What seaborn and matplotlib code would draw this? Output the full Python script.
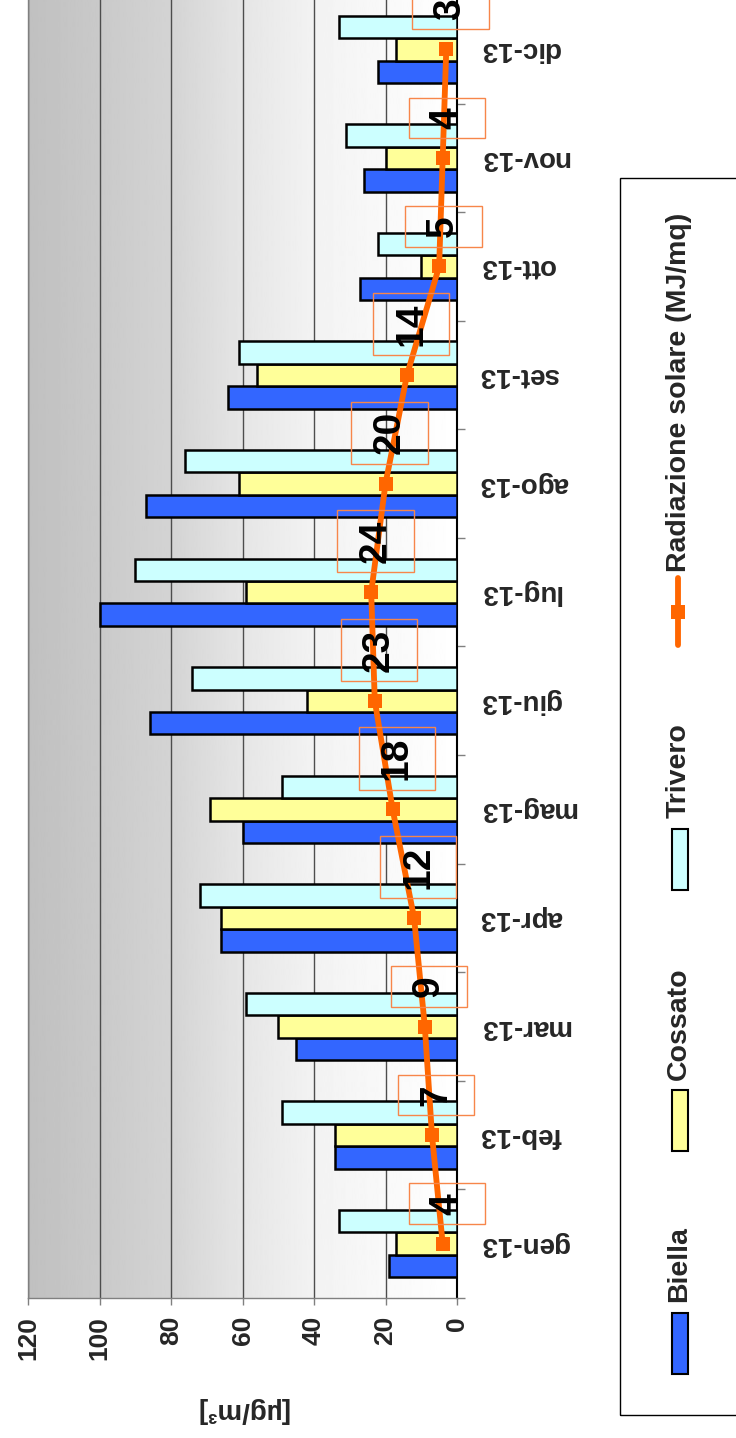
import numpy as np
import pandas as pd
import matplotlib
matplotlib.use("Agg")
import matplotlib.pyplot as plt
import seaborn as sns
from matplotlib.patches import Rectangle
from matplotlib.lines import Line2D
from matplotlib.path import Path

# Monthly mean concentrations [µg/m³] per station and monthly solar radiation (MJ/mq)
months = ["gen-13", "feb-13", "mar-13", "apr-13", "mag-13", "giu-13",
          "lug-13", "ago-13", "set-13", "ott-13", "nov-13", "dic-13"]
biella = [19, 34, 45, 66, 60, 86, 100, 87, 64, 27, 26, 22]
cossato = [17, 34, 50, 66, 69, 42, 59, 61, 56, 10, 20, 17]
trivero = [33, 49, 59, 72, 49, 74, 90, 76, 61, 22, 31, 33]
radiazione = [4, 7, 9, 12, 18, 23, 24, 20, 14, 5, 4, 3]
stations = ["Biella", "Cossato", "Trivero"]
station_colors = ["#3366FF", "#FFFF99", "#CCFFFF"]
value_ticks = [0, 20, 40, 60, 80, 100, 120]
rad_label = "Radiazione solare (MJ/mq)"
unit_label = "[µg/m³]"

sns.set_theme(style="white")
plt.rcParams["font.family"] = ["Liberation Sans", "DejaVu Sans"]
plt.rcParams["font.weight"] = "bold"

df = pd.DataFrame({
    "mese": months * 3,
    "stazione": np.repeat(stations, len(months)),
    "valore": biella + cossato + trivero,
})

W, H = 736, 1438
fig = plt.figure(figsize=(W / 100, H / 100), dpi=100)


def fx(px):
    return px / W


def fy(py):
    return 1 - py / H


def label_box(x0, y0, width, height, mutation_size):
    """Rectangular frame with a small pad along the text and a wide one across it."""
    pa = 0.24 * mutation_size
    pc = 0.52 * mutation_size
    x0, x1 = x0 - pa, x0 + width + pa
    y0, y1 = y0 - pc, y0 + height + pc
    return Path([(x0, y0), (x1, y0), (x1, y1), (x0, y1), (x0, y0)],
                closed=True)


# The chart is laid out sideways: values run right-to-left, months bottom-to-top
ax = fig.add_axes([fx(28), fy(1298), fx(457) - fx(28), fy(-5) - fy(1298)])

sns.barplot(data=df, y="mese", x="valore", hue="stazione", order=months,
            hue_order=stations, palette=station_colors, orient="h",
            width=0.62, gap=0, edgecolor="black", linewidth=1.8,
            saturation=1, legend=False, ax=ax, zorder=3)

ypos = np.arange(len(months))
sns.lineplot(x=radiazione, y=ypos, orient="y", color="#FF6600", lw=4.2,
             marker="s", markersize=10, markeredgewidth=0, ax=ax,
             zorder=5, legend=False)

# grey-to-white background gradient
grad_x = np.linspace(0, 120, 400)
grad_v = np.interp(grad_x, [0, 20, 40, 60, 80, 100, 120],
                   [1.0, 0.975, 0.95, 0.90, 0.83, 0.79, 0.753])
ax.imshow(grad_v[np.newaxis, :], extent=(0, 120, -0.5, len(months) - 0.5),
          cmap="gray", vmin=0, vmax=1, aspect="auto", zorder=0.1,
          interpolation="bilinear")
ax.set_xlim(120, 0)
ax.set_ylim(-0.5, len(months) - 0.5)

ax.set_axisbelow(True)
ax.grid(axis="x", color="#4d4d4d", lw=1)
ax.grid(axis="y", visible=False)

# value labels for radiation
for i, v in enumerate(radiazione):
    ax.annotate(str(v), xy=(v, i), xytext=(3, 21), textcoords="offset points",
                rotation=90, ha="center", va="bottom", fontsize=28,
                fontweight="bold", color="black", zorder=6,
                annotation_clip=False,
                bbox=dict(boxstyle=label_box, fc="none",
                          ec="#F7864A", lw=1))

# value axis
ax.set_xticks(value_ticks)
ax.set_xticklabels([str(v) for v in value_ticks], rotation=90,
                   fontsize=19, fontweight="bold")
ax.tick_params(axis="x", direction="out", length=5, width=1,
               color="#808080", pad=8, bottom=True)
ax.set_xlabel(unit_label, fontsize=20, fontweight="bold", rotation=180)
ax.xaxis.set_label_coords(0.5, (1298 - 1410) / 1303)
ax.xaxis.label.set_va("center")

# month axis on the right, labels upside down
ax.yaxis.tick_right()
ax.set_yticks(ypos)
ax.set_yticklabels(months, rotation=180, fontsize=20, fontweight="bold")
for t in ax.get_yticklabels():
    t.set_va("center")
ax.set_yticks(np.arange(-0.5, len(months), 1), minor=True)
ax.tick_params(axis="y", which="major", length=0, pad=16, right=True,
               left=False)
ax.tick_params(axis="y", which="minor", length=6, width=1, color="#808080",
               direction="out", right=True, left=False)
ax.set_ylabel("")

for side in ["left", "bottom"]:
    ax.spines[side].set_color("#808080")
    ax.spines[side].set_linewidth(1)
ax.spines["right"].set_color("black")
ax.spines["right"].set_linewidth(1.5)
ax.spines["top"].set_visible(False)

# legend, drawn sideways
fig.add_artist(Rectangle((fx(620), fy(1415)), 1 - fx(620) + 0.01,
                         fy(178) - fy(1415), transform=fig.transFigure,
                         fill=False, ec="black", lw=1))
patch_spans = [(1313, 1374), (1090, 1151), (829, 890)]
text_starts = [1302, 1080, 818]
for name, col, (p0, p1), t0 in zip(stations, station_colors, patch_spans,
                                    text_starts):
    fig.add_artist(Rectangle((fx(672), fy(p1)), fx(688) - fx(672),
                             fy(p0) - fy(p1), transform=fig.transFigure,
                             fc=col, ec="black", lw=1.5))
    fig.text(fx(679), fy(t0), name, rotation=90, ha="center", va="bottom",
             fontsize=20.5, fontweight="bold")
fig.add_artist(Line2D([fx(678)] * 3, [fy(645), fy(612), fy(578)],
                      transform=fig.transFigure, color="#FF6600", lw=4.2,
                      marker="s", markersize=10, markeredgewidth=0,
                      markevery=[1], solid_capstyle="round"))
fig.text(fx(679), fy(572), rad_label, rotation=90, ha="center", va="bottom",
         fontsize=20.5, fontweight="bold")

fig.savefig("out.png", dpi=100)
